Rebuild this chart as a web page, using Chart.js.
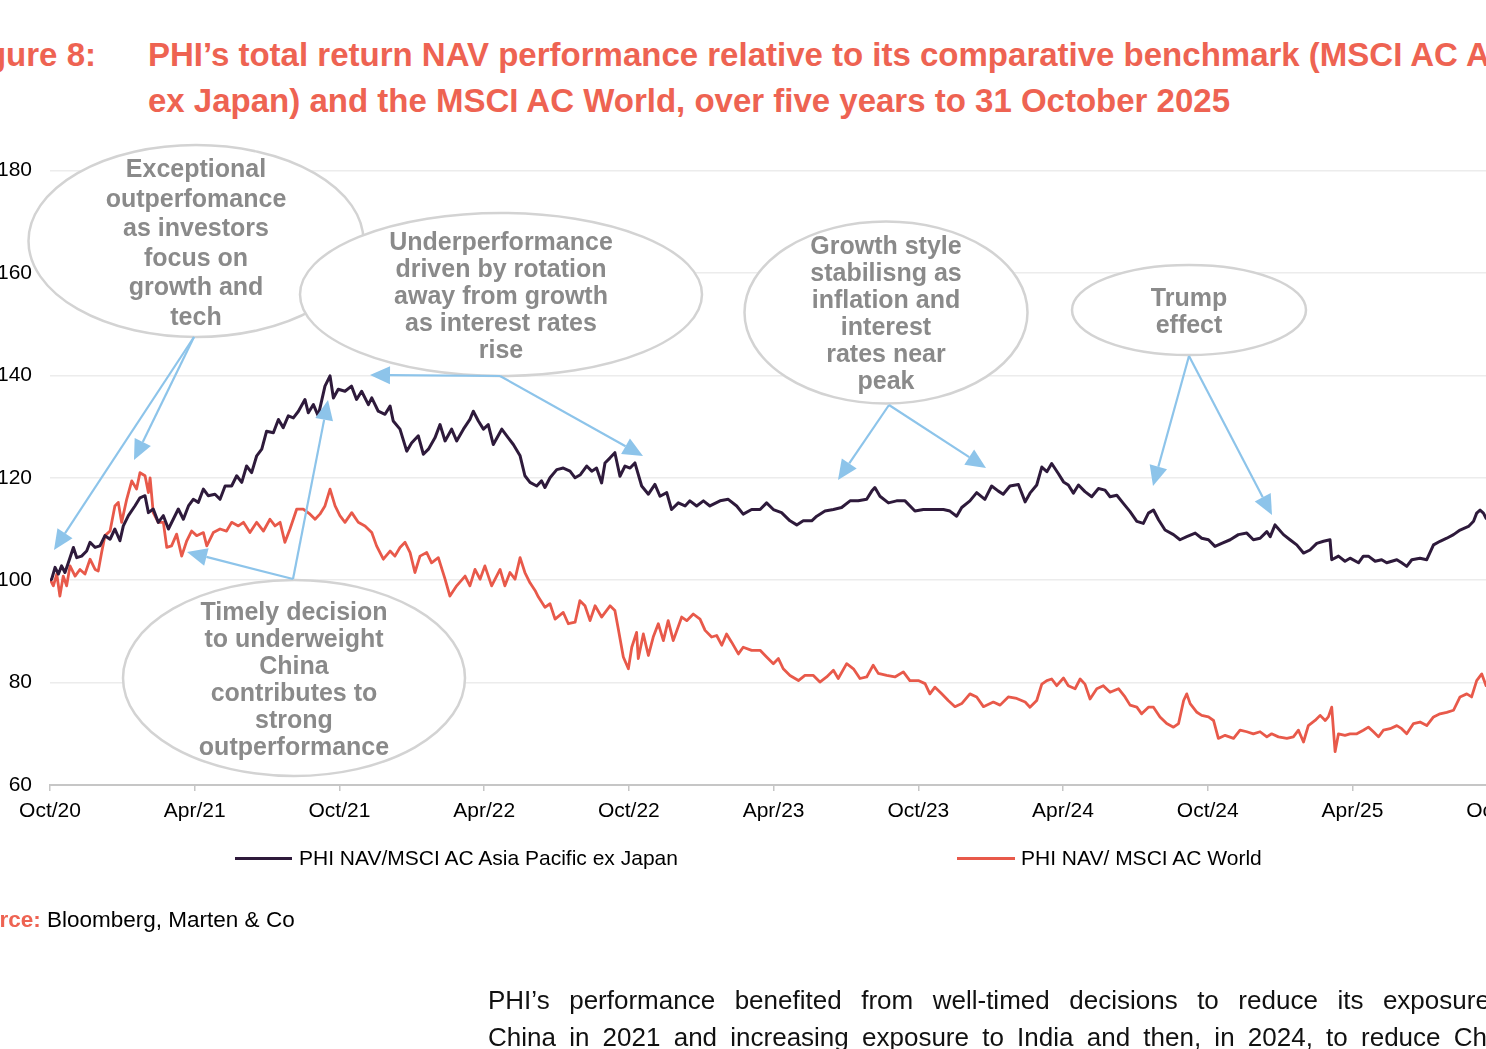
<!DOCTYPE html>
<html>
<head>
<meta charset="utf-8">
<script src="https://cdn.jsdelivr.net/npm/chart.js@4.4.1/dist/chart.umd.min.js"></script>
<style>
  html, body { margin:0; padding:0; background:#fff; width:1486px; height:1049px; overflow:hidden; position:relative;
    font-family:"Liberation Sans", Arial, Helvetica, sans-serif; }
  .title { position:absolute; color:#EE6352; font-weight:bold; font-size:33px; line-height:46px; white-space:nowrap; }
  #chartWrap { position:absolute; left:0; top:140px; width:1560px; height:685px; }
  #annot { position:absolute; left:0; top:0; width:1486px; height:1049px; pointer-events:none; }
  .legend { position:absolute; font-size:21px; line-height:24px; color:#000; white-space:nowrap; }
  .swatch { position:absolute; height:3px; }
  .source { position:absolute; font-size:22.5px; line-height:26px; white-space:nowrap; color:#000; }
  .body { position:absolute; left:488px; font-size:26px; line-height:37px; white-space:nowrap; color:#111; }
</style>
</head>
<body>
<div class="title" style="left:-300px; width:396px; top:32px; text-align:right;">Figure 8:</div>
<div class="title" style="left:148px; top:32px;">PHI’s total return NAV performance relative to its comparative benchmark (MSCI AC Asia Pacific<br>ex Japan) and the MSCI AC World, over five years to 31 October 2025</div>

<div id="chartWrap"><canvas id="c"></canvas></div>
<svg id="annot" xmlns="http://www.w3.org/2000/svg"></svg>

<div class="swatch" style="left:235px; width:57px; top:857px; background:#2E1A3B;"></div>
<div class="legend" style="left:299px; top:846px;">PHI NAV/MSCI AC Asia Pacific ex Japan</div>
<div class="swatch" style="left:957px; width:58px; top:857px; background:#E8594A;"></div>
<div class="legend" style="left:1021px; top:846px;">PHI NAV/ MSCI AC World</div>

<div class="source" style="left:-43px; top:907px;"><b style="color:#EE6352;">Source:</b> Bloomberg, Marten &amp; Co</div>

<div class="body" style="top:982px; word-spacing:12.3px;">PHI’s performance benefited from well-timed decisions to reduce its exposure to</div>
<div class="body" style="top:1019px; word-spacing:6px;">China in 2021 and increasing exposure to India and then, in 2024, to reduce China’s</div>

<script>
// ---- Data (x = months since end-October 2020) ----
const tickLabels = ['Oct/20','Apr/21','Oct/21','Apr/22','Oct/22','Apr/23','Oct/23','Apr/24','Oct/24','Apr/25','Oct/25'];

const asiaMonths = [0,0.07,0.21,0.35,0.48,0.62,0.76,0.97,1.11,1.31,1.52,1.66,1.87,2.07,2.28,2.49,2.69,2.9,3.04,3.25,3.52,3.73,3.94,4.08,4.28,4.49,4.7,4.91,5.11,5.32,5.53,5.74,5.94,6.15,6.36,6.56,6.84,7.05,7.26,7.53,7.74,7.95,8.15,8.36,8.57,8.78,8.98,9.26,9.47,9.67,9.88,10.09,10.3,10.57,10.71,10.92,11.12,11.4,11.61,11.75,11.95,12.23,12.5,12.71,12.92,13.2,13.34,13.61,13.89,14.1,14.23,14.51,14.79,14.99,15.27,15.48,15.69,15.96,16.17,16.38,16.65,16.86,17.14,17.41,17.55,17.76,17.97,18.17,18.38,18.73,19.0,19.21,19.49,19.69,19.9,20.18,
  20.38,20.52,20.73,21.01,21.28,21.56,21.77,21.99,22.25,22.46,22.66,22.87,23.01,23.22,23.42,23.63,23.84,24.05,24.25,24.53,24.81,25.08,25.29,25.57,25.77,26.05,26.33,26.53,26.81,27.09,27.36,27.78,28.12,28.47,28.74,29.09,29.44,29.71,29.99,30.33,30.68,30.96,31.23,31.58,31.79,32.13,32.48,32.82,33.17,33.51,33.86,34.07,34.2,34.41,34.76,35.1,35.45,35.86,36.21,36.62,37.04,37.31,37.59,37.8,38.14,38.42,38.76,39.04,39.32,39.52,39.8,40.15,
  40.43,40.63,40.91,41.12,41.33,41.53,41.81,42.02,42.22,42.43,42.64,42.91,43.19,43.47,43.74,43.95,44.23,44.5,44.78,45.06,45.33,45.54,45.75,45.96,46.23,46.58,46.85,47.13,47.48,47.75,48.03,48.3,48.58,48.93,49.27,49.62,49.89,50.17,50.45,50.59,50.79,51.14,51.41,51.69,51.97,52.24,52.52,52.8,53.07,53.14,53.42,53.69,53.9,54.25,54.45,54.66,54.94,55.21,55.42,55.84,56.04,56.25,56.46,56.8,57.08,57.36,57.63,57.91,58.19,58.46,58.81,59.02,59.15,59.29,59.43,59.54,60.0,60.5,61];
const asiaValues = [100,100.2,102.5,101.2,102.8,101.5,103.4,106.4,104.4,104.7,105.7,107.4,106.4,106.7,108.7,108,110,107.7,110.6,112.6,114.5,116.1,116.5,113.2,113.9,111.3,112.6,110,111.9,113.9,111.9,114.5,115.8,115.2,117.8,116.5,116.8,115.8,118.4,118.4,120.4,119.1,122.3,121,124.3,125.6,129.1,128.8,131.4,129.8,132.1,131.7,133,135.3,132.7,134.3,132.1,137.9,139.9,135.6,137.3,136.9,137.9,135.3,136.9,134.3,135.6,133,132.4,134,131.1,129.5,125.2,126.8,128.2,124.6,125.6,127.8,130.4,127.2,129.5,127.2,129.5,131.4,133,131.1,129.5,130.4,126.5,129.5,127.8,126.5,124.3,120.4,119.1,118.4,
  119.4,118.1,120,121.6,121.9,121.3,120,120.6,122.3,121.3,121.9,119,122.9,123.9,124.9,120.3,122.3,121.9,122.9,118.4,116.8,118.7,116.4,117.1,113.8,115.1,114.5,115.5,114.5,115.5,114.5,115.5,115.8,114.5,112.9,113.8,113.8,115.1,113.8,113.2,111.6,110.8,111.6,111.6,112.5,113.5,113.8,114.2,115.5,115.5,115.8,117.4,118.1,116.4,115.1,115.5,115.5,113.5,113.8,113.8,113.8,113.5,112.5,114.2,115.5,117.1,115.8,118.4,117.4,116.8,118.4,118.7,
  115.3,117,118.6,122.1,121.2,122.8,120.8,119.2,118.6,117,118.6,117.3,116.3,117.9,117.6,116.3,116.6,115,113.4,111.5,111.1,113.1,113.7,111.8,109.8,108.9,107.9,108.5,109.2,108.2,107.9,106.6,107.2,107.9,108.9,109.2,107.9,108.2,109.5,108.5,110.8,108.9,107.9,106.9,105.3,105.9,107.2,107.6,107.9,104,104.7,103.7,104.3,103.4,104.7,104.7,103.7,104,103.4,104,103.4,102.7,104,104.3,104,106.9,107.6,108.2,108.9,109.8,110.5,111.5,113.1,113.7,113.1,112.1,112.9,113.4,113.1];

const worldMonths = [0,0.14,0.28,0.41,0.55,0.69,0.83,1.04,1.24,1.45,1.66,1.87,2.0,2.14,2.28,2.49,2.69,2.83,2.97,3.18,3.39,3.59,3.73,3.94,4.08,4.15,4.28,4.49,4.7,4.84,5.04,5.25,5.46,5.67,5.87,6.08,6.36,6.5,6.77,7.05,7.32,7.53,7.81,8.02,8.29,8.57,8.85,9.12,9.33,9.54,9.74,9.95,10.23,10.5,10.78,10.99,11.19,11.4,11.61,11.82,12.02,12.23,12.51,12.78,13.06,13.34,13.54,13.82,14.1,14.3,14.51,14.72,14.93,15.13,15.34,15.62,15.82,16.1,16.38,16.58,16.86,17.21,17.41,17.62,17.83,18.03,18.31,18.66,18.86,19.07,19.28,19.49,19.69,19.9,
  20.11,20.25,20.52,20.73,20.94,21.28,21.49,21.77,21.97,22.18,22.39,22.6,22.87,23.08,23.22,23.42,23.56,23.77,23.98,24.12,24.32,24.39,24.6,24.81,25.01,25.22,25.43,25.63,25.84,26.19,26.4,26.67,26.95,27.16,27.43,27.64,27.85,28.05,28.26,28.54,28.74,29.09,29.44,29.71,29.99,30.2,30.4,30.68,31.03,31.3,31.65,31.92,32.2,32.48,32.68,33.03,33.31,33.58,33.86,34.13,34.34,34.69,35.03,35.38,35.65,36.0,36.28,36.48,36.69,36.97,37.24,37.52,37.8,38.14,38.42,38.7,39.11,39.39,39.73,40.08,
  40.43,40.63,40.91,41.12,41.33,41.53,41.74,42.02,42.22,42.5,42.71,42.91,43.12,43.4,43.67,43.95,44.3,44.57,44.78,45.06,45.26,45.54,45.75,46.02,46.3,46.58,46.79,47.0,47.13,47.27,47.55,47.75,48.03,48.24,48.44,48.72,49.07,49.34,49.62,49.89,50.17,50.45,50.65,50.93,51.28,51.55,51.76,51.97,52.17,52.45,52.66,52.87,53.0,53.14,53.28,53.42,53.69,53.9,54.18,54.45,54.66,54.87,55.08,55.28,55.56,55.84,56.04,56.25,56.53,56.8,57.08,57.36,57.63,57.91,58.19,58.46,58.74,58.94,59.15,59.36,59.54,60.0,60.5,61];
const worldValues = [100.2,98.9,101.2,96.9,100.8,98.9,102.8,100.8,102.1,101.2,104.1,102.1,101.8,105.4,108.7,109.6,114.5,115.2,111.3,115.8,119.4,117.8,121,120.4,117.1,120,113.2,111.3,111.3,106.4,106.7,109,104.7,107.7,109.6,108.7,109.3,106.7,109.3,110,109.6,111.3,110.6,111.3,109.3,111.3,109.6,111.9,110.6,111.3,107.4,110,113.9,113.9,112.9,111.9,112.9,114.5,117.8,114.5,112.6,111.3,113.2,111.3,110.6,109.3,106.7,104.1,105.7,104.7,106.4,107.4,105.4,101.5,104.7,105.4,103.4,104.4,100.2,96.9,98.9,100.8,98.9,102.1,100.2,102.8,98.9,102.1,98.9,101.5,100.2,104.4,101.5,99.5,
  98,96.7,94.7,95.4,92.4,93.7,91.5,91.8,96,95,92.1,95,92.8,94.1,95,94.1,90.5,85,82.7,86.9,89.8,84.7,89.5,85.3,88.9,91.5,88.2,92.1,88.2,92.8,92.1,93.4,92.4,90.2,88.9,89.2,87.3,89.5,87.9,85.6,86.9,86.3,86.3,85,83.7,84.7,82.7,81.4,80.4,81.4,81.4,80.1,81.1,82.4,80.8,83.7,82.7,80.8,81.1,83.4,81.8,81.4,81.1,82.1,80.4,80.4,79.8,77.8,79.1,77.8,76.5,75.3,75.9,77.8,77.2,75.3,76.2,75.6,77.2,76.9,
  76.2,75.2,76.5,79.7,80.4,80.7,79.4,80.9,79.4,78.8,80.7,79.7,76.8,78.8,79.4,78.1,78.8,77.2,75.6,75.2,73.9,75.2,75.2,73.3,72,71.3,72,76.5,77.8,75.9,74.2,73.6,73.3,72.6,69.1,69.7,69.1,70.7,70.4,70,70.4,69.4,70,69.4,69.1,69.4,70.7,68.4,71.6,72.6,73.6,72.6,73.3,75.2,66.5,70,69.7,70,70,70.7,71.3,70.4,69.4,70.7,71,71.6,71,70,72,72.3,71.6,73.3,73.9,74.2,74.6,77.2,77.8,77.2,80.4,81.7,79.4,80.2,80.7,80.5];

const seriesNames = ['PHI NAV/MSCI AC Asia Pacific ex Japan', 'PHI NAV/ MSCI AC World'];

// ---- Chart ----
Chart.defaults.font.family = '"Liberation Sans", Arial, Helvetica, sans-serif';
Chart.defaults.color = '#000';

const toXY = (xs, ys) => xs.map((x, i) => ({ x: x, y: ys[i] }));

new Chart(document.getElementById('c'), {
  type: 'line',
  data: {
    datasets: [
      { label: seriesNames[0], data: toXY(asiaMonths, asiaValues), borderColor: '#2E1A3B', borderWidth: 3, pointRadius: 0, tension: 0, borderJoinStyle: 'round' },
      { label: seriesNames[1], data: toXY(worldMonths, worldValues), borderColor: '#E8594A', borderWidth: 2.8, pointRadius: 0, tension: 0, borderJoinStyle: 'round' }
    ]
  },
  options: {
    responsive: true,
    maintainAspectRatio: false,
    animation: false,
    layout: { padding: { top: 28, right: 38.7, left: 0, bottom: 0 } },
    plugins: { legend: { display: false }, tooltip: { enabled: false } },
    scales: {
      x: {
        type: 'linear', min: 0, max: 61,
        afterFit: (s) => { s.height = 40; },
        ticks: {
          stepSize: 6, includeBounds: false, autoSkip: false, maxRotation: 0, padding: 8,
          font: { size: 21 }, color: '#000',
          callback: (v) => (v % 6 === 0 ? tickLabels[v / 6] : '')
        },
        grid: { drawOnChartArea: false, drawTicks: true, tickLength: 6, color: '#c6c6c6', lineWidth: 1.5 },
        border: { display: true, color: '#c6c6c6', width: 2 }
      },
      y: {
        min: 60, max: 180,
        afterFit: (s) => { s.width = 50; },
        ticks: { stepSize: 20, padding: 18, font: { size: 21 }, color: '#000' },
        grid: { drawTicks: false, color: (ctx) => (ctx.tick && ctx.tick.value === 60 ? 'rgba(0,0,0,0)' : '#ececec'), lineWidth: 1.5 },
        border: { display: false }
      }
    }
  }
});

// ---- Annotations (callouts) ----
const callouts = [
  { cx:196, cy:241, rx:167.5, ry:96, lines:['Exceptional','outperfomance','as investors','focus on','growth and','tech'], y0:168, dy:29.5,
    arrows:[[194,337,54,550],[194,337,134,460]] },
  { cx:501, cy:294.5, rx:201, ry:81.5, lines:['Underperformance','driven by rotation','away from growth','as interest rates','rise'], y0:240.5, dy:27,
    arrows:[[500,376,370,375],[500,376,643,456]] },
  { cx:886, cy:312.5, rx:141.5, ry:91, lines:['Growth style','stabilisng as','inflation and','interest','rates near','peak'], y0:245, dy:27,
    arrows:[[889,405,838,480],[889,405,986,468]] },
  { cx:1189, cy:310, rx:117, ry:45, lines:['Trump','effect'], y0:297, dy:27,
    arrows:[[1189,356,1153,486],[1189,356,1272,515]] },
  { cx:294, cy:678, rx:171, ry:98, lines:['Timely decision','to underweight','China','contributes to','strong','outperformance'], y0:611, dy:27,
    arrows:[[293,579,187,552],[293,579,328,400]] }
];

const svg = document.getElementById('annot');
const NS = 'http://www.w3.org/2000/svg';
function el(name, attrs, text) {
  const e = document.createElementNS(NS, name);
  for (const k in attrs) e.setAttribute(k, attrs[k]);
  if (text !== undefined) e.textContent = text;
  svg.appendChild(e);
  return e;
}
const arrowColor = '#8DC4EA';
callouts.forEach(c => {
  el('ellipse', { cx:c.cx, cy:c.cy, rx:c.rx, ry:c.ry, fill:'#fff', stroke:'#d3d3d3', 'stroke-width':2.5 });
  c.lines.forEach((t, i) => {
    el('text', { x:c.cx, y:c.y0 + i * c.dy, 'text-anchor':'middle', 'dominant-baseline':'central',
      fill:'#8a8a8a', 'font-size':'25', 'font-weight':'bold', 'font-family':'"Liberation Sans", Arial, sans-serif' }, t);
  });
});
callouts.forEach(c => {
  c.arrows.forEach(a => {
    const [x1, y1, x2, y2] = a;
    const dx = x2 - x1, dy = y2 - y1, L = Math.hypot(dx, dy);
    const ux = dx / L, uy = dy / L, hl = 20, hw = 9;
    const bx = x2 - ux * hl, by = y2 - uy * hl;
    el('line', { x1, y1, x2:bx, y2:by, stroke:arrowColor, 'stroke-width':2.2 });
    el('polygon', { points: `${x2},${y2} ${bx - uy*hw},${by + ux*hw} ${bx + uy*hw},${by - ux*hw}`, fill:arrowColor });
  });
});
</script>
</body>
</html>
